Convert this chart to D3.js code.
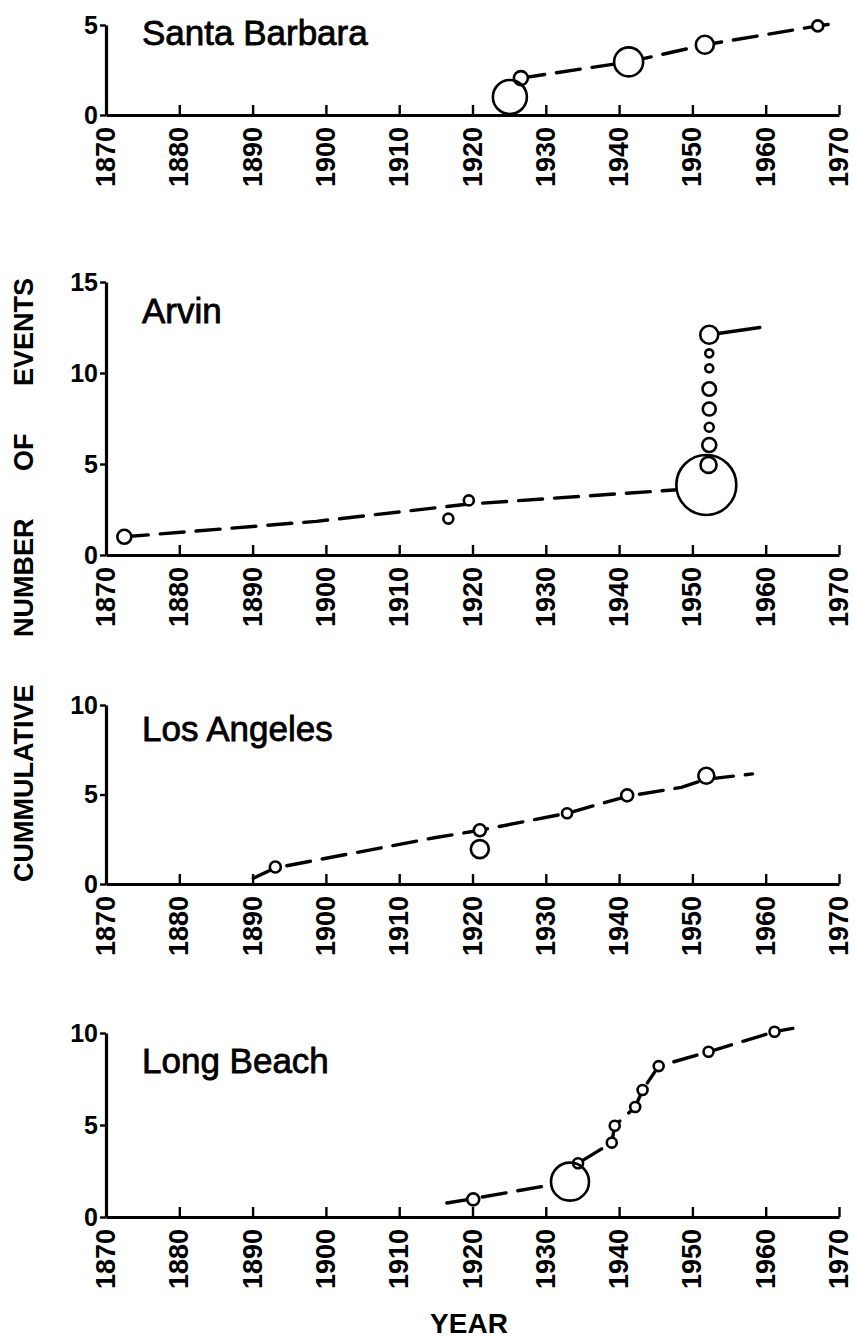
<!DOCTYPE html>
<html>
<head>
<meta charset="utf-8">
<script src="https://cdn.jsdelivr.net/npm/d3@7"></script>
<style>
html, body { margin: 0; padding: 0; background: #fff; }
svg { display: block; }
</style>
</head>
<body>
<svg id="chart" width="855" height="1339"></svg>
<script>
// decade tick labels shared by all four panels
var decades = [1870, 1880, 1890, 1900, 1910, 1920, 1930, 1940, 1950, 1960, 1970];

// Santa Barbara
var sbTicks = [0, 5];
var sbYear  = [1925.1, 1926.6, 1941.3, 1951.7, 1967.1];
var sbCount = [1, 2.05, 2.95, 3.9, 4.95];
var sbSize  = [3.4, 1.4, 2.9, 1.8, 1.1];
var sbTrendYear  = [1926.6, 1941.3, 1951.7, 1967.1, 1969.8];
var sbTrendCount = [2.05, 2.95, 3.9, 4.95, 5.1];

// Arvin
var arTicks = [0, 5, 10, 15];
var arYear  = [1872.5, 1916.7, 1919.5, 1951.9, 1952.2, 1952.3, 1952.3, 1952.3, 1952.3, 1952.3, 1952.3, 1952.3];
var arCount = [1, 2, 3, 3.85, 4.95, 6.04, 7.02, 8.02, 9.12, 10.26, 11.08, 12.1];
var arSize  = [1.4, 1.0, 1.0, 6.0, 1.6, 1.4, 0.9, 1.3, 1.35, 0.8, 0.8, 1.8];
var arTrendYear  = [1872.5, 1898.7, 1919.5, 1948.5];
var arTrendCount = [1.0, 1.85, 2.8, 3.6];
var arTailYear   = [1952.3, 1959.2];
var arTailCount  = [12.1, 12.5];

// Los Angeles
var laTicks = [0, 5, 10];
var laYear  = [1893.1, 1921, 1921, 1932.9, 1941.1, 1951.9];
var laCount = [0.95, 1.95, 3.0, 3.95, 4.95, 6.05];
var laSize  = [1.1, 1.8, 1.2, 1.0, 1.2, 1.6];
var laTrendYear  = [1890.1, 1893.1, 1915, 1921, 1932.9, 1941.1, 1948.5, 1951.9, 1958.2];
var laTrendCount = [0.32, 0.9, 2.6, 3.0, 3.95, 4.9, 5.4, 5.85, 6.15];

// Long Beach
var lbTicks = [0, 5, 10];
var lbYear  = [1920.1, 1933.3, 1934.4, 1939, 1939.4, 1942.2, 1943.2, 1945.4, 1952.2, 1961.2];
var lbCount = [0.96, 1.92, 2.92, 4.04, 4.96, 5.98, 6.9, 8.2, 8.98, 10.07];
var lbSize  = [1.2, 3.8, 1.0, 1.0, 1.0, 1.0, 1.0, 1.0, 1.0, 1.0];
var lbTrendYear  = [1916.5, 1920.1, 1930.7, 1934.4, 1939, 1939.4, 1942.2, 1943.2, 1945.4, 1952.2, 1961.2, 1963.7];
var lbTrendCount = [0.76, 1.0, 1.74, 2.92, 4.04, 4.96, 5.98, 6.9, 8.2, 8.98, 10.07, 10.25];

var svg = d3.select('#chart');
var x = d3.scaleLinear().domain([1870, 1970]).range([106, 839]);
var rScale = d3.scaleLinear().domain([0, 1]).range([0, 5]);

var panels = [
	{ title: 'Santa Barbara', yMax: 5, top: 25, zero: 115, titleY: 45, ticks: sbTicks,
		year: sbYear, count: sbCount, size: sbSize,
		lines: [{ year: sbTrendYear, count: sbTrendCount, dash: true }] },
	{ title: 'Arvin', yMax: 15, top: 282, zero: 555, titleY: 323, ticks: arTicks,
		year: arYear, count: arCount, size: arSize,
		lines: [{ year: arTrendYear, count: arTrendCount, dash: true },
			{ year: arTailYear, count: arTailCount, dash: false }] },
	{ title: 'Los Angeles', yMax: 10, top: 705, zero: 884, titleY: 741, ticks: laTicks,
		year: laYear, count: laCount, size: laSize,
		lines: [{ year: laTrendYear, count: laTrendCount, dash: true }] },
	{ title: 'Long Beach', yMax: 10, top: 1033, zero: 1217, titleY: 1073, ticks: lbTicks,
		year: lbYear, count: lbCount, size: lbSize,
		lines: [{ year: lbTrendYear, count: lbTrendCount, dash: true }] }
];

var font = "'Liberation Sans', Arial, sans-serif";

panels.forEach(function(p) {
	var y = d3.scaleLinear().domain([0, p.yMax]).range([p.zero, p.top]);
	var g = svg.append('g').attr('class', 'panel');

	// x axis, ticks pointing up into the plot
	var xg = g.append('g')
		.attr('transform', 'translate(0,' + p.zero + ')')
		.call(d3.axisTop(x).tickValues(decades).tickSize(10).tickSizeOuter(0).tickFormat(''));
	xg.select('.domain').attr('stroke', '#000').attr('stroke-width', 3.2);
	xg.selectAll('.tick line').attr('stroke', '#000').attr('stroke-width', 2.4);

	g.selectAll('.xlab')
		.data(decades)
		.enter()
		.append('text')
		.attr('class', 'xlab')
		.attr('transform', function(d) {
			return 'translate(' + x(d) + ',' + (p.zero + 12) + ') rotate(-90)';
		})
		.attr('text-anchor', 'end')
		.attr('dominant-baseline', 'central')
		.style('font-family', font)
		.style('font-weight', 'bold')
		.style('font-size', '27px')
		.text(function(d) { return d; });

	// y axis
	var yg = g.append('g')
		.attr('transform', 'translate(106,0)')
		.call(d3.axisLeft(y).tickValues(p.ticks).tickSize(6).tickSizeOuter(0).tickPadding(2)
			.tickFormat(d3.format('d')));
	yg.select('.domain').attr('stroke', '#000').attr('stroke-width', 3.2);
	yg.selectAll('.tick line').attr('stroke', '#000').attr('stroke-width', 2.4);
	yg.selectAll('.tick text')
		.attr('fill', '#000')
		.style('font-family', font)
		.style('font-weight', 'bold')
		.style('font-size', '25px');

	// trend lines
	var line = d3.line()
		.x(function(d) { return x(d[0]); })
		.y(function(d) { return y(d[1]); });

	p.lines.forEach(function(l) {
		g.append('path')
			.datum(d3.zip(l.year, l.count))
			.attr('d', line)
			.attr('fill', 'none')
			.attr('stroke', '#000')
			.attr('stroke-width', 3.4)
			.attr('stroke-linecap', 'round')
			.attr('stroke-dasharray', l.dash ? '24,12' : null);
	});

	var events = d3.zip(p.year, p.count, p.size);

	// white discs hide the line inside each circle, outlines go on top
	g.selectAll('.mask')
		.data(events)
		.enter()
		.append('circle')
		.attr('class', 'mask')
		.attr('cx', function(d) { return x(d[0]); })
		.attr('cy', function(d) { return y(d[1]); })
		.attr('r', function(d) { return rScale(d[2]); })
		.attr('fill', '#fff');

	g.selectAll('.event')
		.data(events)
		.enter()
		.append('circle')
		.attr('class', 'event')
		.attr('cx', function(d) { return x(d[0]); })
		.attr('cy', function(d) { return y(d[1]); })
		.attr('r', function(d) { return rScale(d[2]); })
		.attr('fill', 'none')
		.attr('stroke', '#000')
		.attr('stroke-width', 2.6);

	g.append('text')
		.attr('x', 142)
		.attr('y', p.titleY)
		.style('font-family', font)
		.style('font-size', '35px')
		.attr('stroke', '#000')
		.attr('stroke-width', 0.8)
		.text(p.title);
});

svg.append('text')
	.attr('transform', 'translate(33,882) rotate(-90)')
	.attr('text-anchor', 'start')
	.style('font-family', font)
	.style('font-weight', 'bold')
	.style('font-size', '27px')
	.style('word-spacing', '40px')
	.text('CUMMULATIVE NUMBER OF EVENTS');

svg.append('text')
	.attr('x', 469)
	.attr('y', 1333)
	.attr('text-anchor', 'middle')
	.style('font-family', font)
	.style('font-weight', 'bold')
	.style('font-size', '28px')
	.text('YEAR');
</script>
</body>
</html>
